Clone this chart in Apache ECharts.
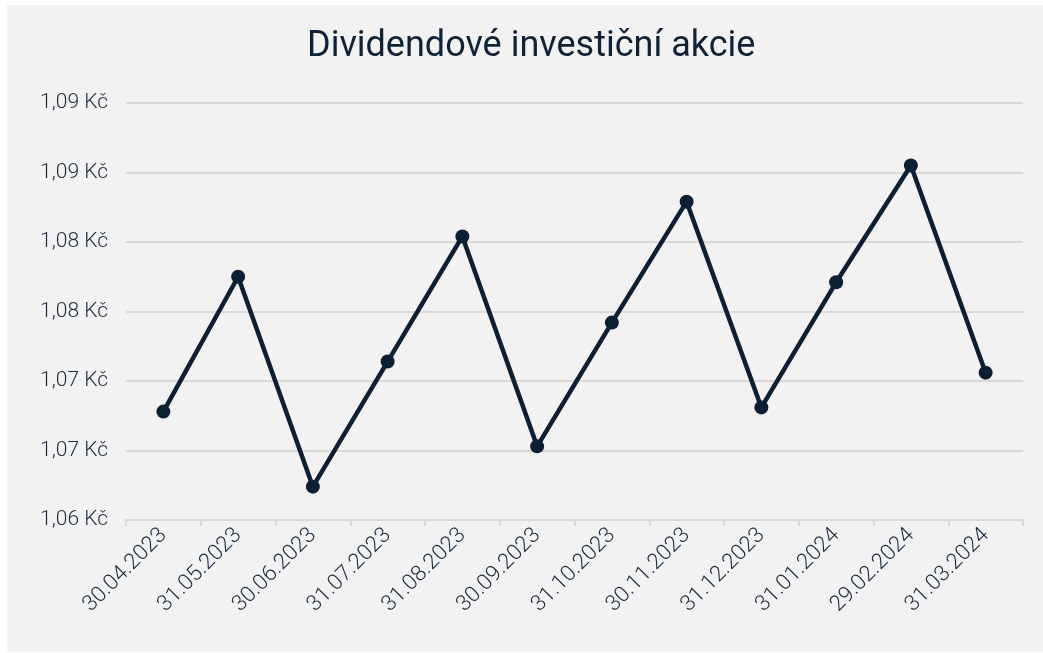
<!DOCTYPE html>
<html>
<head>
<meta charset="utf-8">
<script src="https://cdn.jsdelivr.net/npm/echarts@6/dist/echarts.min.js"></script>
<style>
html,body{margin:0;padding:0;background:#ffffff;}
#wrap{position:absolute;left:7px;top:5px;width:1036px;height:647px;background:#f2f2f2;}
#chart{width:1036px;height:647px;}
</style>
</head>
<body>
<div id="wrap"><div id="chart"></div></div>
<script>
const categories = ['30.04.2023','31.05.2023','30.06.2023','31.07.2023','31.08.2023','30.09.2023','31.10.2023','30.11.2023','31.12.2023','31.01.2024','29.02.2024','31.03.2024'];
const values = [1.0678, 1.0775, 1.0624, 1.0714, 1.0804, 1.0653, 1.0742, 1.0829, 1.0681, 1.0771, 1.0855, 1.0706];
const yTickLabels = ['1,06 Kč','1,07 Kč','1,07 Kč','1,08 Kč','1,08 Kč','1,09 Kč','1,09 Kč'];
const title = 'Dividendové investiční akcie';

const textColor = '#1b2b3d';
const font = 'Roboto';
const chart = echarts.init(document.getElementById('chart'), null, {renderer:'canvas'});
chart.setOption({
  backgroundColor: 'transparent',
  animation: false,
  title: {
    text: title,
    left: 300,
    top: 24,
    padding: 0,
    textStyle: {color: '#0f2236', fontSize: 36, fontWeight: 400, fontFamily: font}
  },
  grid: {left: 119, right: 20, top: 98, bottom: 132, containLabel: false},
  xAxis: {
    type: 'category',
    data: categories,
    boundaryGap: true,
    axisLine: {lineStyle: {color: '#d9d9d9', width: 2}},
    axisTick: {show: true, length: 6, lineStyle: {color: '#d9d9d9', width: 2}},
    axisLabel: {rotate: 45, color: textColor, fontSize: 22, fontFamily: font, fontWeight: 300, margin: 12, interval: 0}
  },
  yAxis: {
    type: 'value',
    min: 1.06,
    max: 1.09,
    interval: 0.005,
    axisLine: {show: false},
    axisTick: {show: false},
    splitLine: {lineStyle: {color: '#d9d9d9', width: 2}},
    axisLabel: {
      color: textColor, fontSize: 21, fontFamily: font, fontWeight: 300, margin: 18,
      formatter: function (v) { return yTickLabels[Math.round((v - 1.06) / 0.005)]; }
    }
  },
  series: [{
    type: 'line',
    data: values,
    symbol: 'circle',
    symbolSize: 14,
    lineStyle: {color: '#0d2033', width: 4.5},
    itemStyle: {color: '#0d2033'}
  }]
});
</script>
</body>
</html>
